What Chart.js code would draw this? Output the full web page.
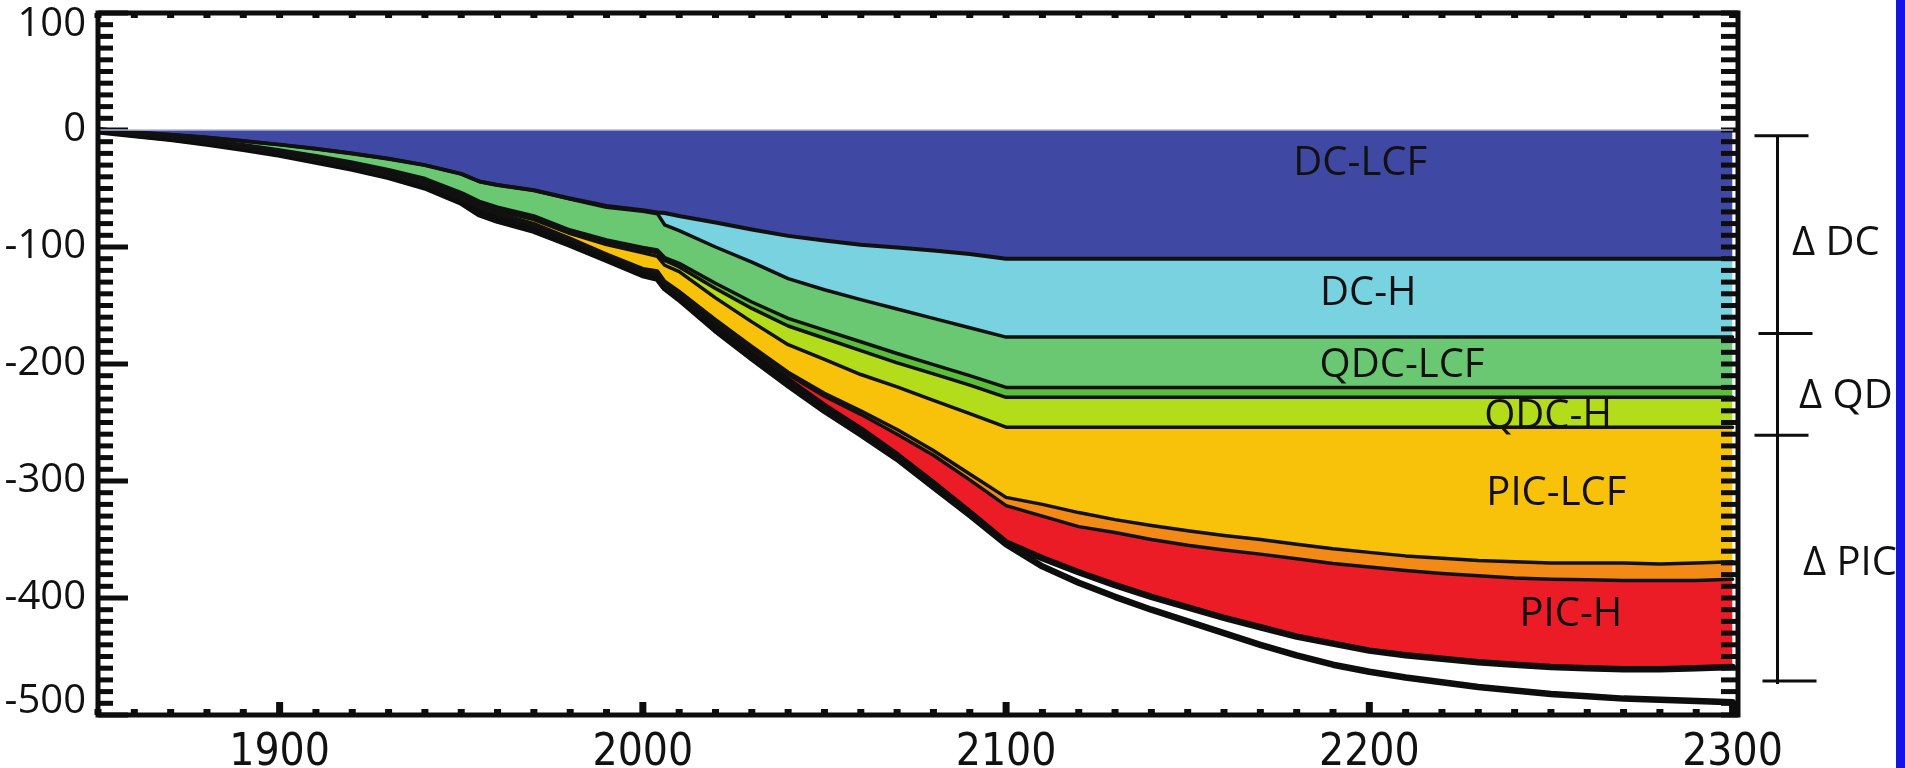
<!DOCTYPE html>
<html>
<head>
<meta charset="utf-8">
<script src="https://cdn.jsdelivr.net/npm/chart.js@4.4.1/dist/chart.umd.min.js"></script>
<style>
  html, body { margin: 0; padding: 0; background: #fff; }
  #wrap { width: 1905px; height: 768px; }
</style>
</head>
<body>
<div id="wrap"><canvas id="chart" width="1905" height="768"></canvas></div>
<script>
// years of the data points
const years = [1850, 1860, 1870, 1880, 1890, 1900, 1910, 1920, 1930, 1940, 1950, 1955, 1960, 1970, 1980, 1990, 2000, 2004, 2006,
    2010, 2020, 2030, 2040, 2050, 2060, 2070, 2080, 2090, 2100,
    2110, 2120, 2130, 2140, 2150, 2160, 2170, 2180, 2190, 2200, 2210, 2220, 2230, 2240, 2250, 2260, 2270, 2280, 2290, 2300];

// lower edge of each band (cumulative)
const zeroLine = [0, 0, 0, 0, 0, 0, 0, 0, 0, 0, 0, 0, 0, 0, 0, 0, 0, 0, 0,
    0, 0, 0, 0, 0, 0, 0, 0, 0, 0,
    0, 0, 0, 0, 0, 0, 0, 0, 0, 0, 0, 0, 0, 0, 0, 0, 0, 0, 0, 0];
const dcLcf = [0, -2, -4, -6.5, -9.5, -12.5, -16, -20, -24.5, -30, -37.5, -44, -47, -51.5, -58.5, -65, -68.5, -70.5, -71,
    -73.5, -79, -85, -90.5, -94.5, -98, -100.5, -103, -106, -110,
    -110, -110, -110, -110, -110, -110, -110, -110, -110, -110, -110, -110, -110, -110, -110, -110, -110, -110, -110, -110];
const dcH = [0, -2, -4, -6.5, -9.5, -12.5, -16, -20, -24.5, -30, -37.5, -44, -47, -51.5, -59, -66, -69.5, -71.5, -81,
    -86, -100, -113, -127, -136.5, -145, -153, -161, -169, -177,
    -177, -177, -177, -177, -177, -177, -177, -177, -177, -177, -177, -177, -177, -177, -177, -177, -177, -177, -177, -177];
const qdcLcf = [0, -3, -5.5, -9, -12.5, -17, -22, -27.5, -34, -41.5, -53.5, -61, -66, -73.5, -85.5, -94, -100.5, -102.5, -109,
    -114, -131, -147, -161, -171, -181, -191, -200.5, -210, -220,
    -220, -220, -220, -220, -220, -220, -220, -220, -220, -220, -220, -220, -220, -220, -220, -220, -220, -220, -220, -220];
const qdcMid = [0, -3.3, -6, -9.5, -13.2, -17.8, -23, -28.7, -35.3, -43, -55, -62.5, -67.5, -75, -87, -96, -102.5, -105, -111.5,
    -117, -135.5, -152.5, -167.5, -178, -188.5, -199, -208.5, -218, -228.5,
    -228.5, -228.5, -228.5, -228.5, -228.5, -228.5, -228.5, -228.5, -228.5, -228.5, -228.5, -228.5, -228.5, -228.5, -228.5, -228.5, -228.5, -228.5, -228.5, -228.5];
const qdcH = [0, -3.5, -6.3, -9.9, -13.8, -18.5, -23.8, -29.7, -36.4, -44.3, -56.5, -64, -69, -76.5, -88.5, -98, -105, -108, -115.6,
    -121, -143.5, -164, -183.5, -196, -209, -219.5, -231, -242.5, -254,
    -254, -254, -254, -254, -254, -254, -254, -254, -254, -254, -254, -254, -254, -254, -254, -254, -254, -254, -254, -254];
const picLcf = [0, -3.7, -6.7, -10.4, -14.5, -19.3, -24.8, -30.8, -37.7, -45.7, -58, -65.5, -71, -80, -92.7, -106, -118.5, -120.5, -129.3,
    -138, -162, -185, -207, -225, -240, -256, -274, -294, -314,
    -320, -327, -333, -338, -342.5, -346.5, -350, -354, -358, -361, -364, -366, -368, -369, -370, -370, -370, -371, -370, -369];
const picMid = [0, -3.8, -6.9, -10.7, -14.9, -19.8, -25.3, -31.4, -38.4, -46.5, -58.8, -66.5, -72, -81, -94, -107, -119.5, -121.5, -130.5,
    -139.5, -164, -187, -209, -227.5, -243, -260, -278, -299, -321,
    -330, -339, -344, -350, -355, -359, -362.5, -366.5, -370.5, -373.5, -376.5, -379, -381, -383, -384, -384.5, -385, -385, -385, -384];
const picH = [0, -3.9, -7.1, -11, -15.3, -20.3, -26, -32.1, -39.1, -47.4, -60, -68, -74.5, -83, -96, -109, -121.5, -124, -133,
    -142.5, -168, -192, -214, -236, -256, -278, -302, -327, -352.5,
    -366, -378, -389, -399, -408, -417, -425, -433, -439, -445, -449, -452, -455, -457, -459, -460, -461, -461, -460, -459];
const lowest = [-1, -4.2, -7.5, -11.5, -16, -21, -27, -33, -40, -49, -62, -72, -77.5, -86, -98, -111, -124, -127, -135,
    -144.5, -171, -195, -218, -240, -260, -281, -305, -329, -354,
    -373, -387, -399, -410, -420, -430, -440, -449, -457, -463, -468, -472, -476, -479, -482, -484, -486, -487, -488, -489];

// axis tick labels
const xTickValues = [1900, 2000, 2100, 2200, 2300];
const yTickValues = [100, 0, -100, -200, -300, -400, -500];

// band names and where they are written (year, value of baseline)
const layerNames = ['DC-LCF', 'DC-H', 'QDC-LCF', 'QDC-H', 'PIC-LCF', 'PIC-H'];
const layerLabelAt = [[2197.5, -38.5], [2199.7, -149.6], [2209, -211], [2249.2, -254.7], [2251.5, -320.5], [2255.5, -424]];

// bracket on the right
const bracketNames = ['\u0394 DC', '\u0394 QD', '\u0394 PIC'];
const bracketLevels = [-5, -174, -261, -471];
const bracketTextAt = [-107, -237.6, -380.3];

const points = arr => years.map((yr, i) => ({ x: yr, y: arr[i] }));

const bands = [
    { data: zeroLine, color: null, line: '#b3b8dc', width: 1.5 },
    { data: dcLcf, color: '#3f48a3', line: '#111', width: 4 },
    { data: dcH, color: '#78d2e0', line: '#111', width: 3.5 },
    { data: qdcLcf, color: '#6bc872', line: '#111', width: 3.5 },
    { data: qdcMid, color: '#5bbf3a', line: '#111', width: 3.5 },
    { data: qdcH, color: '#b3dc1a', line: '#111', width: 3.5 },
    { data: picLcf, color: '#f8c20a', line: '#111', width: 3.5 },
    { data: picMid, color: '#f38a15', line: '#111', width: 3.5 },
    { data: picH, color: '#ec1c27', line: '#0d0d0d', width: 6.5 },
    { data: lowest, color: null, line: '#0d0d0d', width: 6.5 }
];

// frame, inward ticks and text
const framePlugin = {
    id: 'frame',
    beforeDatasetsDraw(chart) {
        const { ctx, chartArea: { left, right, top, bottom }, scales: { x, y } } = chart;
        ctx.save();
        ctx.fillStyle = '#0d0d0d';
        for (let v = -500; v <= 100; v += 10) {
            const py = y.getPixelForValue(v);
            const major = v % 100 === 0;
            ctx.fillRect(left, py - 2.5, major ? 30 : 15, 5);
            ctx.fillRect(right - 17, py - 2.5, 17, 5);
        }
        for (let yr = 1850; yr <= 2300; yr += 10) {
            const px = x.getPixelForValue(yr);
            const major = yr % 100 === 0;
            ctx.fillRect(px - 3.5, bottom - (major ? 13 : 6), 7, major ? 13 : 6);
            ctx.fillRect(px - 3.5, top, 7, 5);
        }
        ctx.restore();
    },
    afterDatasetsDraw(chart) {
        const { ctx, chartArea: { left, right, top, bottom }, scales: { x, y } } = chart;
        ctx.save();
        ctx.strokeStyle = '#0d0d0d';
        ctx.lineWidth = 5;
        ctx.strokeRect(left, top, right - left, bottom - top);

        // y tick labels
        ctx.fillStyle = '#111';
        ctx.font = '40px "Open Sans"';
        ctx.textAlign = 'right';
        ctx.textBaseline = 'middle';
        yTickValues.forEach(v => {
            const shift = v === 100 ? 12 : (v === -500 ? -13 : 0);
            ctx.fillText(String(v), left - 12, y.getPixelForValue(v) + shift);
        });

        // band labels
        ctx.textAlign = 'center';
        ctx.textBaseline = 'alphabetic';
        layerNames.forEach((name, i) => {
            const [yr, v] = layerLabelAt[i];
            ctx.fillText(name, x.getPixelForValue(yr), y.getPixelForValue(v));
        });

        // bracket
        const bx = right + 39.5;
        const tickLeft = [-23, -19, -23, -15];
        ctx.lineWidth = 3;
        ctx.beginPath();
        ctx.moveTo(bx, y.getPixelForValue(bracketLevels[0]));
        ctx.lineTo(bx, y.getPixelForValue(bracketLevels[3]) + 3);
        bracketLevels.forEach((v, i) => {
            const py = y.getPixelForValue(v);
            ctx.moveTo(bx + tickLeft[i], py);
            ctx.lineTo(bx + tickLeft[i] + 54, py);
        });
        ctx.stroke();

        ctx.textAlign = 'left';
        const textLeft = [54, 61, 65];
        bracketNames.forEach((name, i) => {
            ctx.fillText(name, right + textLeft[i], y.getPixelForValue(bracketTextAt[i]));
        });

        // blue strip at the right edge
        ctx.fillStyle = '#1414e6';
        ctx.fillRect(1896, 0, 9, chart.height);
        ctx.restore();
    }
};

const ctx = document.getElementById('chart').getContext('2d');

new Chart(ctx, {
    type: 'line',
    data: {
        datasets: bands.map(b => ({
            data: points(b.data),
            borderColor: b.line,
            borderWidth: b.width,
            backgroundColor: b.color || 'transparent',
            fill: b.color ? '-1' : false,
            pointRadius: 0,
            tension: 0,
            borderJoinStyle: 'round',
            borderCapStyle: 'round'
        }))
    },
    plugins: [framePlugin],
    options: {
        responsive: false,
        animation: false,
        devicePixelRatio: 1,
        layout: { padding: { left: 0, right: 167, top: 13, bottom: 0 } },
        plugins: {
            legend: { display: false },
            tooltip: { enabled: false },
            filler: { drawTime: 'beforeDatasetsDraw' }
        },
        scales: {
            x: {
                type: 'linear',
                min: 1850,
                max: 2301.5,
                grid: { display: false },
                border: { display: false },
                afterFit: scale => { scale.height = 53; },
                afterBuildTicks: scale => { scale.ticks = xTickValues.map(v => ({ value: v })); },
                ticks: {
                    padding: 4,
                    maxRotation: 0,
                    color: '#111',
                    font: { family: "'Liberation Sans Narrow', 'DejaVu Sans Condensed', 'Open Sans'", size: 44 },
                    callback: v => String(v)
                }
            },
            y: {
                type: 'linear',
                min: -500,
                max: 100,
                grid: { display: false },
                border: { display: false },
                afterFit: scale => { scale.width = 98; },
                afterBuildTicks: scale => { scale.ticks = yTickValues.map(v => ({ value: v })); },
                ticks: { display: false }
            }
        }
    }
});
</script>
</body>
</html>
